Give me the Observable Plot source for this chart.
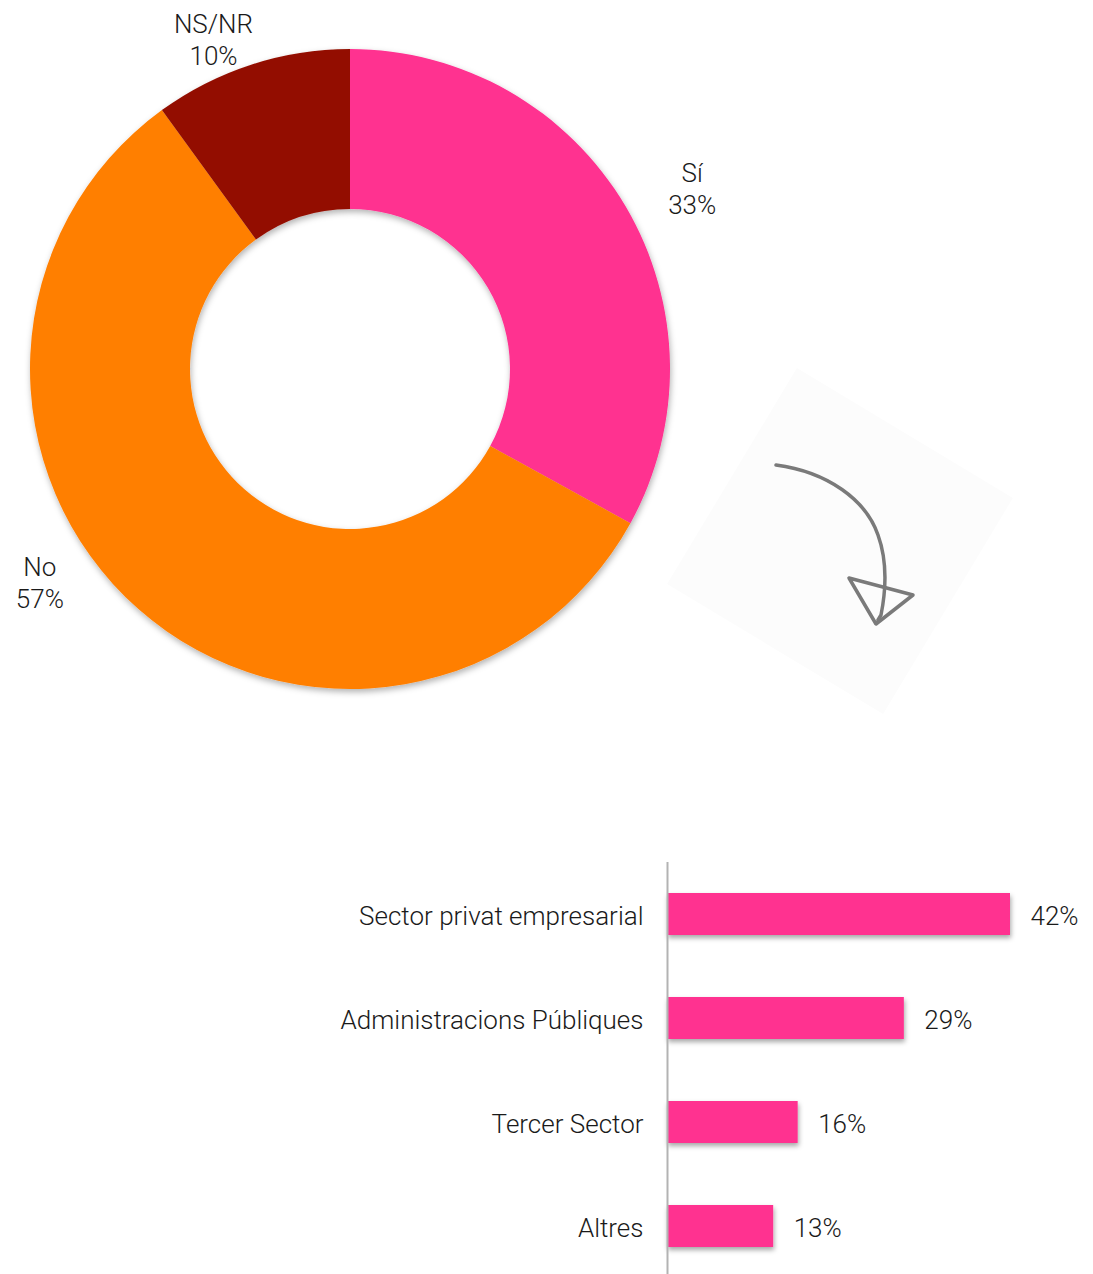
<!DOCTYPE html>
<html><head><meta charset="utf-8">
<script src="https://cdn.jsdelivr.net/npm/d3@7"></script>
<script src="https://cdn.jsdelivr.net/npm/@observablehq/plot@0.6"></script>
<style>
body{margin:0;background:#fff;}
#wrap{position:relative;width:1093px;height:1274px;overflow:hidden;}
#deco{position:absolute;left:0;top:0;}
#donut{position:absolute;left:0;top:0;}
#bars{position:absolute;left:0;top:840px;}
svg text{font-family:Roboto,"Helvetica Neue","Liberation Sans",sans-serif;}
</style></head><body>
<div id="wrap">
<svg id="deco" width="1093" height="840">
  <defs>
    <filter id="sh" x="-20%" y="-20%" width="140%" height="180%">
      <feDropShadow dx="1" dy="3" stdDeviation="2.5" flood-color="#000" flood-opacity="0.35"/>
    </filter>
    <filter id="shd" x="-10%" y="-10%" width="120%" height="125%">
      <feDropShadow dx="1" dy="3" stdDeviation="3" flood-color="#000" flood-opacity="0.3"/>
    </filter>
  </defs>
  <rect x="-126" y="-126" width="252" height="252" transform="translate(840,541) rotate(31)" fill="#fcfcfc"/>
  <g fill="none" stroke="#7a7a7a" stroke-width="3.5" stroke-linecap="round" stroke-linejoin="round">
    <path d="M776,465 C828,472 866,500 878,535 C887,560 886,590 881,615 L878,620"/>
    <path d="M849,578 L913,595 L876,624 Z"/>
  </g>
</svg>
<div id="donut"></div>
<div id="bars"></div>
</div>
<script>
// ---- data ----
const pieCategories = ["Sí", "No", "NS/NR"];
const pieValues = [33, 57, 10];
const pieColors = ["#FF3090", "#FF7F00", "#931100"];

const barCategories = ["Sector privat empresarial", "Administracions Públiques", "Tercer Sector", "Altres"];
const barValues = [42, 29, 16, 13];
const barColor = "#FF3090";

// ---- donut ----
const R = 320, R0 = 160;
const pieData = pieCategories.map((c, i) => ({cat: c, value: pieValues[i]}));
const arcs = d3.pie().sort(null).value(d => d.value)(pieData);
const color = d3.scaleOrdinal(pieCategories, pieColors);
// layout nudges for label placement (angle offset in degrees, label radius)
const labelNudge = {"Sí": [2.6, 387], "No": [14.3, 376], "NS/NR": [-4.5, 358]};
const labels = arcs.map(a => {
  const [da, rr] = labelNudge[a.data.cat];
  const ang = (a.startAngle + a.endAngle) / 2 + da * Math.PI / 180;
  return {x: rr * Math.sin(ang), y: -rr * Math.cos(ang), text: `${a.data.cat}\n${a.data.value}%`};
});

const donut = Plot.plot({
  width: 1093, height: 840, margin: 0,
  x: {domain: [-350, 743], range: [0, 1093], axis: null},
  y: {domain: [-369, 471], range: [0, 840], axis: null},
  marks: [
    (index, scales) => {
      const cx = scales.x(0), cy = scales.y(0);
      const g = d3.create("svg:g").attr("transform", `translate(${cx},${cy})`).attr("filter", "url(#shd)");
      const arc = d3.arc().innerRadius(R0).outerRadius(R);
      g.selectAll("path").data(arcs).join("path")
        .attr("d", arc).attr("fill", d => color(d.data.cat));
      return g.node();
    },
    Plot.text(labels, {x: "x", y: "y", text: "text", fontSize: 26, fontWeight: 300, fill: "#1a1a1a", lineHeight: 1.25})
  ]
});
document.getElementById("donut").appendChild(donut);

// ---- bars ----
const barData = barCategories.map((c, i) => ({cat: c, value: barValues[i]}));
const bars = Plot.plot({
  width: 1093, height: 434, margin: 0, marginTop: 22,
  x: {domain: [0, 42], range: [667, 1010], axis: null},
  y: {domain: barCategories, range: [20, 439], paddingInner: 0.6, paddingOuter: 0.3, axis: null},
  marks: [
    Plot.barX(barData, {x: "value", y: "cat", fill: barColor}),
    Plot.ruleX([0], {stroke: "#b3b3b3", strokeWidth: 2}),
    Plot.text(barData, {x: 0, y: "cat", text: "cat", textAnchor: "end", dx: -24, dy: 2, fontSize: 26, fontWeight: 300, fill: "#1a1a1a"}),
    Plot.text(barData, {x: "value", y: "cat", text: d => d.value + "%", textAnchor: "start", dx: 20, dy: 2, fontSize: 26, fontWeight: 300, fill: "#1a1a1a"})
  ]
});
d3.select(bars).selectAll("g[aria-label='bar']").attr("filter", "url(#sh)");
document.getElementById("bars").appendChild(bars);
</script>
</body></html>
